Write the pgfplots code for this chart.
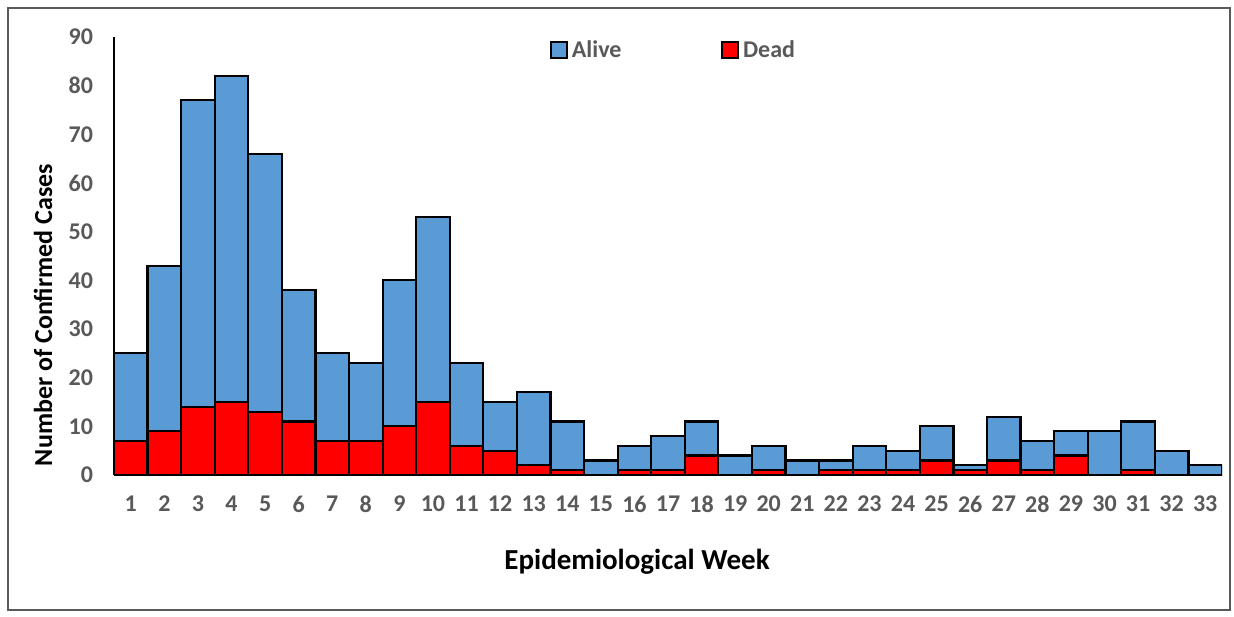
\documentclass[border=0pt]{standalone}
\usepackage{fontspec}
\setmainfont{Carlito}
\usepackage{pgfplots}
\pgfplotsset{compat=1.18}
\usepackage{pgfplotstable}

\definecolor{alive}{HTML}{5B9BD5}
\definecolor{dead}{HTML}{FF0000}
\definecolor{ticktxt}{HTML}{595959}

% week, dead, alive (alive = total - dead)
\pgfplotstableread{
week dead alive
1  7  18
2  9  34
3  14 63
4  15 67
5  13 53
6  11 27
7  7  18
8  7  16
9  10 30
10 15 38
11 6  17
12 5  10
13 2  15
14 1  10
15 0  3
16 1  5
17 1  7
18 4  7
19 0  4
20 1  5
21 0  3
22 1  2
23 1  5
24 1  4
25 3  7
26 1  1
27 3  9
28 1  6
29 4  5
30 0  9
31 1  10
32 0  5
33 0  2
}\weeks

\begin{document}
\begin{tikzpicture}[x=0.5pt,y=0.5pt]
\useasboundingbox (0,0) rectangle (1234,616);
\draw[gray!70!black, line width=0.8pt] (8,6) rectangle (1230,608);
\begin{axis}[
  at={(114pt*0.5,141pt*0.5)}, anchor=origin,
  scale only axis,
  width=554pt, height=219pt,
  ybar stacked, bar width=1, bar shift=0,
  xmin=0.5, xmax=33.5, ymin=0, ymax=90,
  xtick={1,...,33}, ytick={0,10,...,90},
  major tick length=0pt,
  axis y line=left, axis x line=bottom,
  axis line style={-, line width=0.8pt},
  x axis line style={draw=gray},
  /pgf/number format/assume math mode=true,
  tick label style={font=\bfseries\fontsize{12}{13}\selectfont, text=ticktxt},
  xticklabel style={yshift=-7pt},
  yticklabel style={xshift=-7pt},
  legend columns=2,
  legend style={draw=none, fill=none, at={(0.506,0.97)}, anchor=center,
    font=\bfseries\fontsize{12}{13}\selectfont, text=ticktxt,
    /tikz/every even column/.append style={column sep=48pt}},
  legend image code/.code={\draw[#1, line width=0.8pt] (0pt,-4pt) rectangle (8pt,4pt);},
]
\addplot[fill=dead, draw=black, line width=1.1pt, forget plot] table[x=week,y=dead] {\weeks};
\addplot[fill=alive, draw=black, line width=1.1pt] table[x=week,y=alive] {\weeks};
\addlegendentry{Alive}
\addlegendimage{fill=dead, draw=black}
\addlegendentry{Dead}
\end{axis}
\node[rotate=90, font=\bfseries\fontsize{13}{15}\selectfont] at (43,301) {Number of Confirmed Cases};
\node[font=\bfseries\fontsize{14.5}{16}\selectfont] at (637,54) {Epidemiological Week};
\end{tikzpicture}
\end{document}
